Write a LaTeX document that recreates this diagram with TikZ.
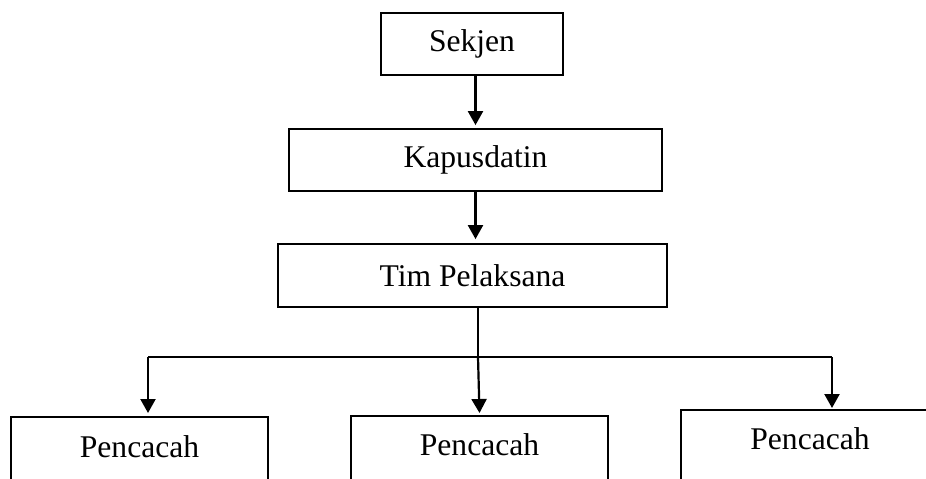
\documentclass[tikz,border=0pt]{standalone}
\usepackage{fontspec}
\setmainfont{Liberation Serif}
\usetikzlibrary{arrows.meta}
\begin{document}
\begin{tikzpicture}[x=1pt,y=-1pt,
  box/.style={draw, line width=1.8pt, inner sep=0pt, font=\fontsize{31.6}{36}\selectfont},
  openbox/.style={box, anchor=north, minimum width=257pt, text depth=80pt},
  conn/.style={line width=2.2pt},
  arr/.style={conn, -{Triangle[width=15pt,length=14pt]}}]
\useasboundingbox (0,0) rectangle (926,479);
\clip (0,0) rectangle (926,479);
\node[box, minimum width=182pt, minimum height=62pt] (sek) at (472,44) {Sekjen};
\node[box, minimum width=373pt, minimum height=62pt] (kap) at (475.5,160) {Kapusdatin};
\node[box, minimum width=389pt, minimum height=63pt] (tim) at (472.5,275.5) {Tim Pelaksana};
\node[openbox, text height=41pt] (p1) at (139.5,416) {Pencacah};
\node[openbox, text height=40pt] (p2) at (479.5,415) {Pencacah};
\node[openbox, text height=40pt, minimum width=258pt] (p3) at (810,409) {Pencacah};
\coordinate (j) at (478,357);
\coordinate (jl) at (148,357);
\coordinate (jr) at (832,357);
\draw[arr] (kap.north |- sek.south) -- ([yshift=3pt]kap.north);
\draw[arr] (kap.south) -- ([yshift=4pt]kap.south |- tim.north);
\draw[conn] (tim.south -| j) -- (j);
\draw[conn] (jl) -- (jr);
\draw[arr] (jl) -- ([yshift=3pt]jl |- p1.north);
\draw[arr] (j) -- ([yshift=2pt]p2.north);
\draw[arr] (jr) -- ([yshift=1pt]jr |- p3.north);
\end{tikzpicture}
\end{document}
